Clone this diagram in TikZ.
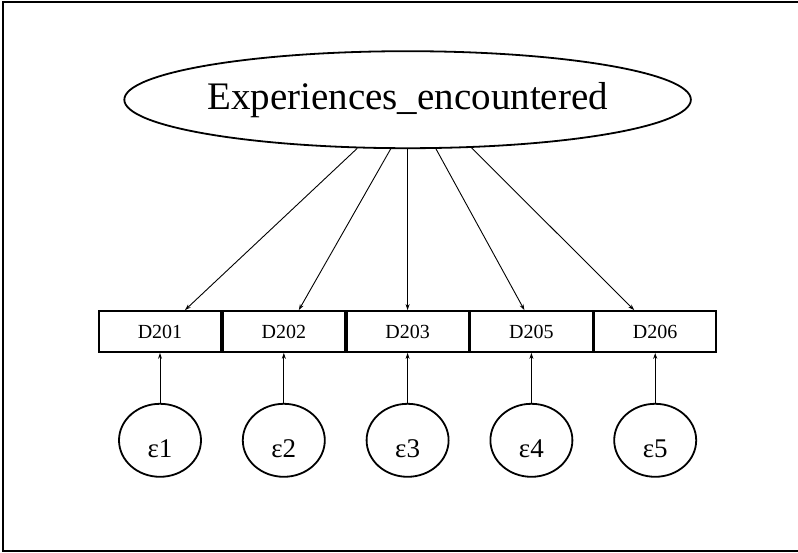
\documentclass[tikz,border=0pt]{standalone}
\usepackage{fontspec}
\setmainfont{Liberation Serif}
\usepackage{tikz}
\usetikzlibrary{shapes.geometric, arrows.meta, positioning}
\tikzset{
  latent/.style={ellipse, draw, line width=1.8pt, minimum width=497pt,
    minimum height=97pt, inner sep=0pt, font=\fontsize{39}{44}\selectfont},
  indicator/.style={rectangle, draw, line width=1.8pt, minimum width=122pt,
    minimum height=41pt, inner sep=0pt, font=\fontsize{20}{24}\selectfont},
  errorterm/.style={ellipse, draw, line width=1.8pt, minimum width=82pt,
    minimum height=73pt, inner sep=0pt, text height=34pt, text depth=0pt,
    font=\fontsize{27}{30}\selectfont},
  arrow/.style={-{Stealth[length=6pt, width=4pt]}, line width=0.9pt},
  frame/.style={line width=1.5pt},
}

\begin{document}
\begin{tikzpicture}[x=1pt, y=-1pt]
  \useasboundingbox (0,0) rectangle (798,553);
  \draw[frame] (798,2) -- (3,2) -- (3,551) -- (798,551);
  % observed indicators
  \node[indicator] (d201) at (160,331.5) {D201};
  \node[indicator, right=0pt of d201] (d202) {D202};
  \node[indicator, right=0pt of d202] (d203) {D203};
  \node[indicator, right=0pt of d203] (d205) {D205};
  \node[indicator, right=0pt of d205] (d206) {D206};
  % latent factor
  \node[latent, above=161pt of d203] (exp) {Experiences\_encountered};
  % error terms
  \foreach \i/\d in {1/d201, 2/d202, 3/d203, 4/d205, 5/d206} {
    \node[errorterm, below=50pt of \d] (e\i) {ε\i};
    \draw[arrow] (e\i) -- (\d);
  }
  % loadings
  \draw[arrow] (exp.224) -- ([xshift=25pt]d201.north);
  \draw[arrow] (exp.251) -- ([xshift=15pt]d202.north);
  \draw[arrow] (exp.south) -- (d203.north);
  \draw[arrow] (exp.300) -- ([xshift=-7pt]d205.north);
  \draw[arrow] (exp.323) -- ([xshift=-21pt]d206.north);
\end{tikzpicture}
\end{document}
